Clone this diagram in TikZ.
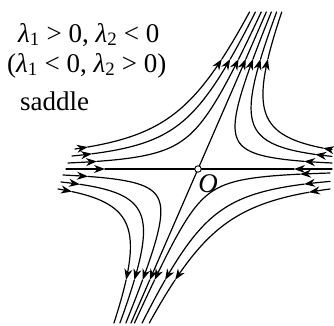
\documentclass[tikz,border=0pt]{standalone}
\usepackage{fontspec}
\setmainfont{Liberation Serif}
\usetikzlibrary{arrows.meta}
\tikzset{
  flow/.style={line width=1.2pt, line cap=round},
  tipped/.style={-{Stealth[length=11pt,width=8pt,inset=3.5pt]}},
  lbl/.style={anchor=base west, inner sep=0pt, font=\fontsize{27}{30}\selectfont}
}
% #1 = c (u*v), #2 = sign of v, #3 = |v| start, #4 = |v| first arrow, #5 = |v| second arrow, #6 = |v| end
\newcommand\flowline[6]{%
  \pgfmathsetmacro\tA{ln(#3)}\pgfmathsetmacro\tB{ln(#4)}%
  \pgfmathsetmacro\tC{ln(#5)}\pgfmathsetmacro\tD{ln(#6)}%
  \draw[flow,tipped] plot[variable=\t,domain=\tA:\tB,samples=4]
    ({198+(#1)/((#2)*exp(\t))+0.435*(#2)*exp(\t)},{169-(#2)*exp(\t)});
  \draw[flow,tipped] plot[variable=\t,domain=\tB:\tC,samples=60]
    ({198+(#1)/((#2)*exp(\t))+0.435*(#2)*exp(\t)},{169-(#2)*exp(\t)});
  \draw[flow] plot[variable=\t,domain=\tC:\tD,samples=8]
    ({198+(#1)/((#2)*exp(\t))+0.435*(#2)*exp(\t)},{169-(#2)*exp(\t)});
}
\begin{document}
\begin{tikzpicture}[x=1pt,y=-1pt]
\useasboundingbox (0,0) rectangle (334,325);
% labels
\node[lbl] (l1) at (18,42) {\textit{λ}\textsubscript{1} > 0, \textit{λ}\textsubscript{2} < 0};
\node[lbl] (l2) at (7,72) {(\textit{λ}\textsubscript{1} < 0, \textit{λ}\textsubscript{2} > 0)};
\node[lbl] (l3) at (20,110) {saddle};
% axes
\coordinate (L) at (66,169);
\coordinate (La) at (105,169);
\coordinate (R) at (332,169);
\coordinate (Ra) at (294,169);
\coordinate (T) at (266.3,12);
\coordinate (Ta) at (245.85,59);
\coordinate (B) at (131.0,323);
\coordinate (Ba) at (149.7,280);
\coordinate (Oc) at (198,169);
\draw[flow,tipped] (L) -- (La);
\draw[flow] (La) -- (Oc);
\draw[flow,tipped] (R) -- (Ra);
\draw[flow] (Ra) -- (Oc);
\draw[flow,tipped] (Oc) -- (Ta);
\draw[flow] (Ta) -- (T);
\draw[flow,tipped] (Oc) -- (Ba);
\draw[flow] (Ba) -- (B);
% upper left
\flowline{-796}{1}{6}{7.63}{110}{157}
\flowline{-1712}{1}{13}{15.2}{110}{157}
\flowline{-2634}{1}{20}{22.0}{110}{157}
% upper right
\flowline{788}{1}{6}{7.67}{110}{157}
\flowline{1619}{1}{12.6}{14.6}{110}{157}
\flowline{2424}{1}{19.3}{20.9}{110}{157}
% lower right
\flowline{-535}{-1}{4}{5.13}{111}{154}
\flowline{-1704}{-1}{12.4}{15.13}{111}{154}
\flowline{-2814}{-1}{20}{23.26}{111}{154}
% lower left
\flowline{794}{-1}{6}{7.44}{111}{154}
\flowline{1707}{-1}{13}{15.33}{111}{154}
\flowline{2626}{-1}{20}{22.6}{111}{154}
% origin
\node[circle, draw, fill=white, inner sep=0pt, minimum size=6.5pt, line width=0.9pt] (O) at (Oc) {};
\node[font=\itshape\fontsize{27}{27}\selectfont, inner sep=0pt] (Olbl) at (208,184) {O};
\end{tikzpicture}
\end{document}
